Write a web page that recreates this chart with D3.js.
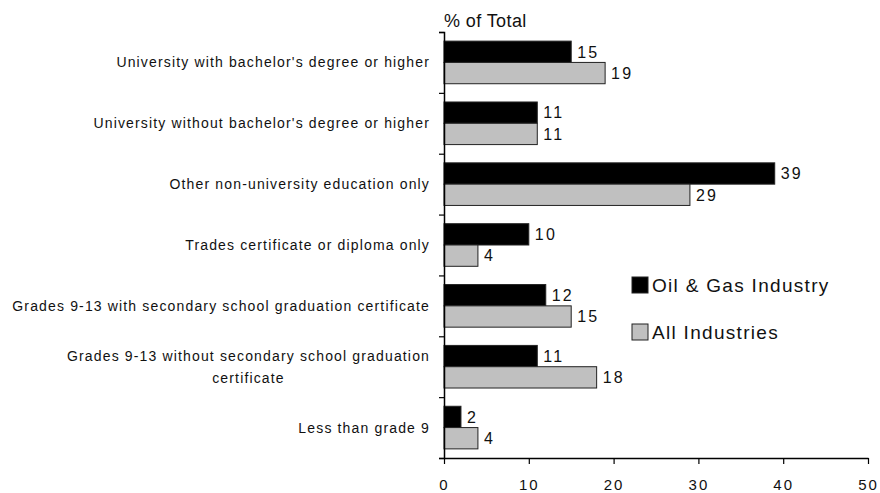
<!DOCTYPE html>
<html>
<head>
<meta charset="utf-8">
<script src="https://cdn.jsdelivr.net/npm/d3@7/dist/d3.min.js"></script>
<style>
  html, body { margin: 0; padding: 0; background: #fff; }
  svg text { font-family: "Liberation Sans", Arial, sans-serif; fill: #111; }
</style>
</head>
<body>
<svg id="chart" width="880" height="493"></svg>
<script>
// Education levels, top to bottom
const categories = [
  ["University with bachelor's degree or higher"],
  ["University without bachelor's degree or higher"],
  ["Other non-university education only"],
  ["Trades certificate or diploma only"],
  ["Grades 9-13 with secondary school graduation certificate"],
  ["Grades 9-13 without secondary school graduation", "certificate"],
  ["Less than grade 9"]
];
const seriesNames = ["Oil & Gas Industry", "All Industries"];
const oilGas = [15, 11, 39, 10, 12, 11, 2];
const allIndustries = [19, 11, 29, 4, 15, 18, 4];
const xTicks = [0, 10, 20, 30, 40, 50];
const fills = ["#000000", "#c0c0c0"];

const svg = d3.select("#chart");
const plotLeft = 444, plotRight = 868, plotTop = 32, plotBottom = 458;

const x = d3.scaleLinear().domain([0, 50]).range([plotLeft, plotRight]);
const y = d3.scaleBand().domain(d3.range(categories.length)).range([plotTop, plotBottom])
  .paddingInner(0.3).paddingOuter(0.15);
const ySub = d3.scaleBand().domain([0, 1]).range([0, y.bandwidth()]);
const band = (plotBottom - plotTop) / categories.length;

const rows = categories.map((c, i) => ({ i, label: c, values: [oilGas[i], allIndustries[i]] }));

// Bars and value labels
const g = svg.append("g");
rows.forEach(r => {
  r.values.forEach((v, s) => {
    g.append("rect")
      .attr("x", x(0))
      .attr("y", y(r.i) + ySub(s))
      .attr("width", x(v) - x(0))
      .attr("height", ySub.bandwidth())
      .attr("fill", fills[s])
      .attr("stroke", "#222")
      .attr("stroke-width", 1);
    g.append("text")
      .attr("x", x(v) + 6)
      .attr("y", y(r.i) + ySub(s) + ySub.bandwidth() / 2)
      .attr("dy", "0.36em")
      .attr("font-size", 16)
      .attr("letter-spacing", 2.2)
      .text(v);
  });
});

// Category labels
rows.forEach(r => {
  const cy = plotTop + band * (r.i + 0.5);
  const n = r.label.length;
  const t = svg.append("text")
    .attr("text-anchor", n > 1 ? "middle" : "end")
    .attr("font-size", 14)
    .attr("letter-spacing", 1.15);
  r.label.forEach((line, k) => {
    t.append("tspan")
      .attr("x", 430)
      .attr("y", cy + (k - (n - 1) / 2) * 22)
      .attr("dy", "0.36em")
      .text(line);
  });
  if (n > 1) {
    // wrapped label: lines centred under the first line, right edge at 430
    const w = t.select("tspan").node().getComputedTextLength();
    t.selectAll("tspan").attr("x", 430 - w / 2);
  }
});

// Left axis with ticks at band boundaries
const yEdges = d3.scaleLinear().domain([0, categories.length]).range([plotTop, plotBottom]);
svg.append("g")
  .attr("transform", `translate(${plotLeft},0)`)
  .call(d3.axisLeft(yEdges).tickValues(d3.range(categories.length + 1)).tickSize(5).tickFormat(""))
  .call(a => a.select(".domain").attr("stroke", "#000").attr("stroke-width", 1.5))
  .call(a => a.selectAll(".tick line").attr("stroke", "#000").attr("stroke-width", 1.2));

// Bottom axis
svg.append("g")
  .attr("transform", `translate(0,${plotBottom})`)
  .call(d3.axisBottom(x).tickValues(xTicks).tickSize(6).tickSizeOuter(0).tickPadding(15))
  .call(a => a.select(".domain").attr("stroke", "#000").attr("stroke-width", 1.5))
  .call(a => a.selectAll(".tick line").attr("stroke", "#000").attr("stroke-width", 1.2))
  .call(a => a.selectAll(".tick text")
    .attr("font-size", 15).attr("letter-spacing", 2)
    .attr("font-family", "'Liberation Sans', Arial, sans-serif").attr("fill", "#111"));

// Axis title
svg.append("text")
  .attr("x", plotLeft)
  .attr("y", 27)
  .attr("font-size", 18)
  .attr("letter-spacing", 0.4)
  .text("% of Total");

// Legend
const legend = svg.append("g").attr("transform", "translate(632,277)");
seriesNames.forEach((name, s) => {
  const row = legend.append("g").attr("transform", `translate(0,${s * 47})`);
  row.append("rect").attr("width", 16).attr("height", 16)
    .attr("fill", fills[s]).attr("stroke", "#222").attr("stroke-width", 1);
  row.append("text").attr("x", 20).attr("y", 8).attr("dy", "0.36em")
    .attr("font-size", 19).attr("letter-spacing", 1.3).text(name);
});
</script>
</body>
</html>
